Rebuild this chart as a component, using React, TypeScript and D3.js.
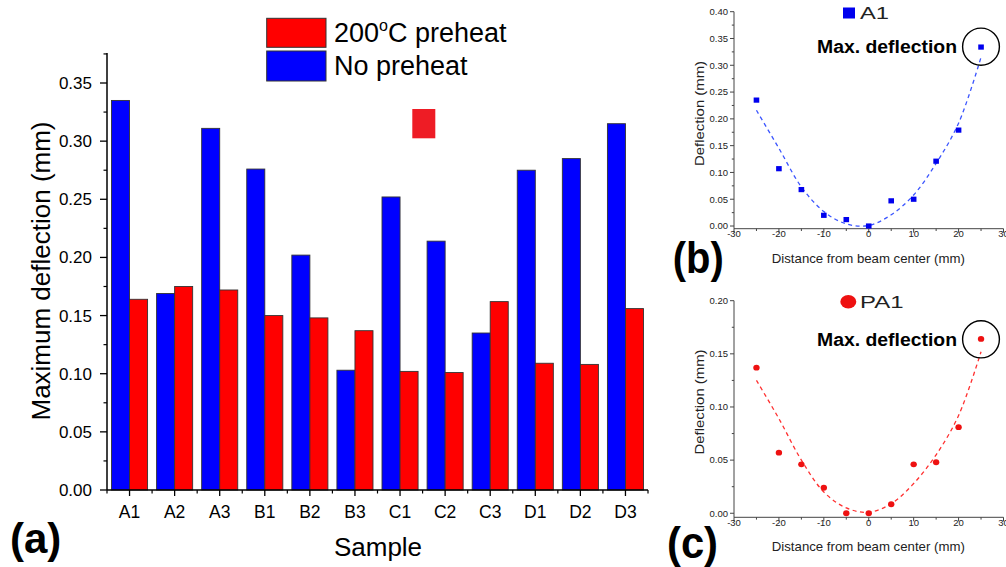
import React from "react";
import * as d3 from "d3";

// ---------- Data: panel (a) ----------
const categories = ["A1", "A2", "A3", "B1", "B2", "B3", "C1", "C2", "C3", "D1", "D2", "D3"];
const noPreheat = [0.335, 0.169, 0.311, 0.276, 0.202, 0.103, 0.252, 0.214, 0.135, 0.275, 0.285, 0.315];
const preheat200 = [0.164, 0.175, 0.172, 0.150, 0.148, 0.137, 0.102, 0.101, 0.162, 0.109, 0.108, 0.156];
const mainYTicks = [0, 0.05, 0.1, 0.15, 0.2, 0.25, 0.3, 0.35];

// ---------- Data: panels (b) and (c) ----------
const distance = [-25, -20, -15, -10, -5, 0, 5, 10, 15, 20, 25];
const a1Deflection = [0.235, 0.107, 0.068, 0.020, 0.012, 0.000, 0.047, 0.050, 0.121, 0.179, 0.334];
const a1Fit = [0.216, 0.145, 0.073, 0.027, 0.004, 0.001, 0.021, 0.058, 0.117, 0.192, 0.315];
const pa1Deflection = [0.137, 0.057, 0.046, 0.024, 0.000, 0.000, 0.0085, 0.046, 0.048, 0.081, 0.164];
const pa1Fit = [0.125, 0.089, 0.050, 0.020, 0.005, 0.001, 0.009, 0.028, 0.055, 0.092, 0.152];
const subXTicks = [-30, -20, -10, 0, 10, 20, 30];
const subXMinor = [-25, -15, -5, 5, 15, 25];
const bYTicks = [0, 0.05, 0.1, 0.15, 0.2, 0.25, 0.3, 0.35, 0.4];
const cYTicks = [0, 0.05, 0.1, 0.15, 0.2];

const FONT = "'Liberation Sans', Arial, Helvetica, sans-serif";
const BLUE = "#0000ff";
const RED = "#ff0000";

function MainChart() {
  const x = d3.scaleBand<string>().domain(categories).range([107, 648]).padding(0);
  const y = d3.scaleLinear().domain([0, 0.3758]).range([490, 53]);
  const bw = x.bandwidth() * 0.4;
  const minorY = d3.range(0.025, 0.376, 0.05);
  const boundaries = categories.map((c) => x(c)!).concat([648]);
  return (
    <g fontFamily={FONT}>
      {categories.map((c, i) => {
        const cx = x(c)! + x.bandwidth() / 2;
        return (
          <g key={c}>
            <rect x={cx - bw} y={y(noPreheat[i])} width={bw} height={y(0) - y(noPreheat[i])}
              fill={BLUE} stroke="#333" strokeWidth={0.9} />
            <rect x={cx} y={y(preheat200[i])} width={bw} height={y(0) - y(preheat200[i])}
              fill={RED} stroke="#333" strokeWidth={0.9} />
          </g>
        );
      })}
      {/* axes */}
      <line x1={107} x2={107} y1={53} y2={490} stroke="#000" strokeWidth={1.5} />
      <line x1={107} x2={648} y1={490} y2={490} stroke="#000" strokeWidth={1.5} />
      {mainYTicks.map((t) => (
        <g key={t}>
          <line x1={100} x2={107} y1={y(t)} y2={y(t)} stroke="#000" strokeWidth={1.3} />
          <text x={92} y={y(t) + 6} textAnchor="end" fontSize={17} fill="#000">{t.toFixed(2)}</text>
        </g>
      ))}
      {minorY.map((t) => (
        <line key={t} x1={103.5} x2={107} y1={y(t)} y2={y(t)} stroke="#000" strokeWidth={1.2} />
      ))}
      {categories.map((c) => {
        const cx = x(c)! + x.bandwidth() / 2;
        return (
          <g key={c}>
            <line x1={cx} x2={cx} y1={490} y2={496} stroke="#000" strokeWidth={1.3} />
            <text x={cx} y={518} textAnchor="middle" fontSize={17.5} fill="#000">{c}</text>
          </g>
        );
      })}
      {boundaries.map((bx, i) => (
        <line key={i} x1={bx} x2={bx} y1={490} y2={493.5} stroke="#000" strokeWidth={1.2} />
      ))}
      <text transform="translate(50,271) rotate(-90)" textAnchor="middle" fontSize={26} fill="#000">
        Maximum deflection (mm)
      </text>
      <text x={378} y={556} textAnchor="middle" fontSize={26} fill="#000">Sample</text>
      {/* legend */}
      <rect x={266.7} y={18.3} width={59.3} height={29} fill={RED} stroke="#333" strokeWidth={1} />
      <rect x={266.7} y={51} width={59.3} height={30} fill={BLUE} stroke="#333" strokeWidth={1} />
      <text x={334} y={42.3} fontSize={27} fill="#000">
        200<tspan fontSize={16} dy={-11}>o</tspan><tspan dy={11}>C preheat</tspan>
      </text>
      <text x={334} y={75} fontSize={27} fill="#000">No preheat</text>
      {/* stray marker */}
      <rect x={412.3} y={109} width={23} height={29.3} fill="#ee1c25" />
      <text x={10} y={553} fontSize={42} fontWeight="bold" fill="#000">(a)</text>
    </g>
  );
}

type SubProps = {
  top: number;
  bottom: number;
  yMin: number;
  yMax: number;
  yTicks: number[];
  values: number[];
  fit: number[];
  color: string;
  lineColor: string;
  marker: "square" | "circle";
  legendLabel: string;
  legendY: number;
  maxTextY: number;
  circleY: number;
  xLabelY: number;
  yLabelCenter: number;
  panelLabel: string;
  panelLabelX: number;
  panelLabelY: number;
};

function SubChart(p: SubProps) {
  const x = d3.scaleLinear().domain([-30, 30]).range([734, 1003.5]);
  const y = d3.scaleLinear().domain([p.yMin, p.yMax]).range([p.bottom, p.top]);
  const minorY = p.yTicks.slice(0, -1).map((t, i) => (t + p.yTicks[i + 1]) / 2);
  const line = d3
    .line<number>()
    .x((_, i) => x(distance[i]))
    .y((v) => y(v))
    .curve(d3.curveCatmullRom.alpha(0.5));
  const axisColor = "#444";
  return (
    <g fontFamily={FONT}>
      <line x1={734} x2={734} y1={p.top} y2={p.bottom} stroke={axisColor} strokeWidth={1} />
      <line x1={734} x2={1003.5} y1={p.bottom} y2={p.bottom} stroke={axisColor} strokeWidth={1} />
      {p.yTicks.map((t) => (
        <g key={t}>
          <line x1={730} x2={734} y1={y(t)} y2={y(t)} stroke={axisColor} strokeWidth={1} />
          <text x={728} y={y(t) + 3.3} textAnchor="end" fontSize={9.5} fill="#222">{t.toFixed(2)}</text>
        </g>
      ))}
      {minorY.map((t) => (
        <line key={t} x1={731.8} x2={734} y1={y(t)} y2={y(t)} stroke={axisColor} strokeWidth={1} />
      ))}
      {subXTicks.map((t) => (
        <g key={t}>
          <line x1={x(t)} x2={x(t)} y1={p.bottom} y2={p.bottom + 4} stroke={axisColor} strokeWidth={1} />
          <text x={x(t)} y={p.bottom + 8.5} textAnchor="middle" fontSize={9.5} fill="#222">{t}</text>
        </g>
      ))}
      {subXMinor.map((t) => (
        <line key={t} x1={x(t)} x2={x(t)} y1={p.bottom} y2={p.bottom + 2.3} stroke={axisColor} strokeWidth={1} />
      ))}
      <path d={line(p.fit) || ""} fill="none" stroke={p.lineColor} strokeWidth={1.3} strokeDasharray="4,3.5" />
      {p.values.map((v, i) =>
        p.marker === "square" ? (
          <rect key={i} x={x(distance[i]) - 2.8} y={y(v) - 2.6} width={5.6} height={5.2} fill={p.color} />
        ) : (
          <ellipse key={i} cx={x(distance[i])} cy={y(v)} rx={3.2} ry={2.9} fill={p.color} />
        )
      )}
      {/* legend */}
      {p.marker === "square" ? (
        <rect x={843} y={p.legendY - 5.5} width={12} height={11} fill={p.color} />
      ) : (
        <ellipse cx={848.3} cy={p.legendY} rx={8} ry={6.8} fill={p.color} />
      )}
      <text x={860} y={p.legendY + 6} fontSize={17} fill="#222" textLength={p.legendLabel.length * 14.5} lengthAdjust="spacingAndGlyphs">
        {p.legendLabel}
      </text>
      <text x={817} y={p.maxTextY} fontSize={17.5} fontWeight="bold" fill="#000" textLength={140} lengthAdjust="spacingAndGlyphs">
        Max. deflection
      </text>
      <ellipse cx={981} cy={p.circleY} rx={18.4} ry={18.6} fill="none" stroke="#000" strokeWidth={1.4} />
      <text x={868.3} y={p.xLabelY} textAnchor="middle" fontSize={13.5} fill="#222" textLength={193} lengthAdjust="spacingAndGlyphs">
        Distance from beam center (mm)
      </text>
      <text transform={`translate(704,${p.yLabelCenter}) rotate(-90)`} textAnchor="middle" fontSize={13.5} fill="#222"
        textLength={105} lengthAdjust="spacingAndGlyphs">
        Deflection (mm)
      </text>
      <text x={p.panelLabelX} y={p.panelLabelY} fontSize={45} fontWeight="bold" fill="#000" textLength={51} lengthAdjust="spacingAndGlyphs">
        {p.panelLabel}
      </text>
    </g>
  );
}

export default function App() {
  return (
    <svg width={1006} height={567} style={{ position: "absolute", left: 0, top: 0, background: "#fff" }}>
      <rect width={1006} height={567} fill="#fff" />
      <MainChart />
      <SubChart
        top={11.7} bottom={228.7} yMin={-0.005} yMax={0.4} yTicks={bYTicks}
        values={a1Deflection} fit={a1Fit} color="#0000ee" lineColor="#3b55ff" marker="square"
        legendLabel="A1" legendY={13} maxTextY={52.7} circleY={46.7} xLabelY={263.3} yLabelCenter={113.5}
        panelLabel="(b)" panelLabelX={672.7} panelLabelY={272.5}
      />
      <SubChart
        top={300.7} bottom={517.3} yMin={-0.0038} yMax={0.2} yTicks={cYTicks}
        values={pa1Deflection} fit={pa1Fit} color="#ee1111" lineColor="#ff3030" marker="circle"
        legendLabel="PA1" legendY={301.7} maxTextY={346} circleY={339.3} xLabelY={550.7} yLabelCenter={402}
        panelLabel="(c)" panelLabelX={667} panelLabelY={557.8}
      />
    </svg>
  );
}
